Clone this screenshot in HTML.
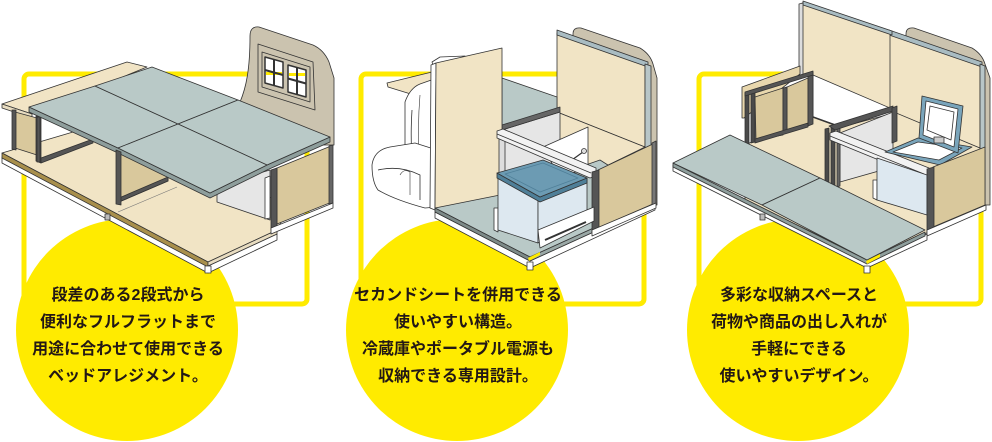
<!DOCTYPE html>
<html><head><meta charset="utf-8">
<style>
html,body{margin:0;padding:0;background:#fff;}
#wrap{position:relative;width:992px;height:442px;overflow:hidden;background:#fff;}
svg{position:absolute;left:0;top:0;}
.t{position:absolute;width:240px;text-align:center;font-family:"Liberation Sans","Noto Sans CJK JP",sans-serif;font-weight:bold;font-size:16px;line-height:27px;color:#231815;white-space:nowrap;}
</style></head><body><div id="wrap">
<svg width="992" height="442" viewBox="0 0 992 442">
<!-- yellow frames -->
<g fill="none" stroke="#ffeb00" stroke-width="5">
<rect x="24" y="74" width="283" height="230" rx="5"/>
<rect x="361" y="74" width="283" height="230" rx="5"/>
<rect x="699" y="74" width="282" height="230" rx="5"/>
</g>
<g fill="#ffeb00">
<circle cx="127" cy="330" r="111"/>
<circle cx="457" cy="330" r="111"/>
<circle cx="798" cy="330" r="111"/>
</g>

<!-- ============ PANEL 1 ============ -->
<g stroke="#333" stroke-width="0.8" stroke-linejoin="round">
<!-- headboard -->
<path d="M240,102 C246,88 250,70 250,36 Q250,26 259,27 L313,45 Q324,50 329,62 L334,78 L334,145 L240,145 Z" fill="#cbc3af"/>
<polygon points="258,44 313,62 315,110 258,92" fill="#cbc3af"/>
<polygon points="262,52 310,67 310,102 262,87" fill="#cbc3af"/>
<polygon points="265,57 283,62 283,88 265,83" fill="#fff" stroke-width="1.5"/>
<polygon points="288,65 306,70 306,97 288,92" fill="#fff" stroke-width="1.5"/>
<rect x="266" y="72" width="16" height="3" fill="#ffeb00" stroke="none"/>
<rect x="289" y="73" width="16" height="3" fill="#ffeb00" stroke="none"/>
<line x1="274" y1="59.5" x2="274" y2="85.5" stroke-width="2"/>
<line x1="265" y1="70" x2="283" y2="75" stroke-width="2"/>
<line x1="297" y1="67.5" x2="297" y2="94.5" stroke-width="2"/>
<line x1="288" y1="78.5" x2="306" y2="83.5" stroke-width="2"/>

<!-- floor -->
<polygon points="2,157 208,266 277,234 277,240 208,273 2,163" fill="#fff"/>
<polygon points="2,153 90,127 290,205 277,230 208,262" fill="#f1e4c5"/>
<line x1="118" y1="212" x2="177" y2="187" stroke="#777" stroke-width="0.6"/>
<polygon points="2,153 208,262 208,267 2,158" fill="#a88f4c"/>
<polygon points="208,262 277,230 277,234 208,266" fill="#e8dcc0"/>
<rect x="205" y="266" width="6" height="7" fill="#fff"/>
<rect x="105" y="214" width="5" height="6" fill="#bbb"/>

<!-- upper beige board -->
<polygon points="2,104 127,62 147,67 32,114" fill="#f1e4c5"/>
<polygon points="2,104 32,114 32,118 2,108" fill="#e8dcc0"/>

<!-- left cabinet -->
<polygon points="15,112 37,118 37,155 15,148" fill="#d9c89c"/>
<polygon points="12,110 16,110 16,150 12,149" fill="#555"/>
<polygon points="36,116 41,117 41,163 36,161" fill="#555"/>
<polygon points="41,158 93,139 93,143 41,163" fill="#555"/>

<!-- middle panel under mats -->
<polygon points="119,150 168,130 168,181 119,202" fill="#d9c89c"/>
<polygon points="119,198 168,177 168,181 119,202" fill="#555"/>

<!-- right cabinet -->
<polygon points="217,185 270,170 270,220 217,202" fill="#e6e6e6"/>
<polygon points="265,178 270,176 270,218 265,219" fill="#fff"/>
<polygon points="277,168 331,146 332,202 277,224" fill="#d9c89c"/>
<polygon points="271,170 277,168 277,228 271,230" fill="#555"/>
<polygon points="329,146 333,145 333,203 329,204" fill="#666"/>
<polygon points="271,228 333,203 333,208 271,234" fill="#fff"/>

<!-- mat thickness -->
<polygon points="29,107 29,112 118,153 210,198 267,170 330,142 330,137 267,165 210,193 118,148" fill="#8e9e9c"/>
<!-- mats -->
<polygon points="29,107 95,86 178,124 118,148" fill="#b9c9c7"/>
<polygon points="95,86 152,67 238,100 178,124" fill="#b9c9c7"/>
<polygon points="178,124 238,100 330,137 267,165" fill="#b9c9c7"/>
<polygon points="118,148 178,124 267,165 210,193" fill="#b9c9c7"/>

<!-- front posts -->
<polygon points="116,150 121,152 121,205 116,204" fill="#555"/>
<rect x="37" y="117" width="3" height="45" fill="#555"/>
</g>

<!-- ============ PANEL 2 ============ -->
<g stroke="#333" stroke-width="0.8" stroke-linejoin="round">
<path d="M573,34 Q573,27 581,28 L640,48 Q650,54 653,64 L657,78 L657,205 L573,205 Z" fill="#cbc3af"/>
<polygon points="557,33 645,65 645,147 557,112" fill="#f1e4c5"/>
<polygon points="557,30 648,62 648,67 557,35" fill="#a9bcc2"/>
<polygon points="645,64 651,66 651,147 645,149" fill="#b8c6c8"/>

<!-- back mat -->
<polygon points="502,78 557,97 557,112 502,130" fill="#b9c9c7"/>
<polygon points="412,86 440,80 440,97 418,96" fill="#b9c9c7"/>
<!-- compartment floor beige -->
<polygon points="557,112 645,147 598,170 560,160" fill="#f1e4c5"/>
<!-- inner wall -->
<polygon points="502,130 560,112 560,165 502,185" fill="#e6e6e6"/>
<polygon points="502,125 560,107 560,112 502,130" fill="#666"/>

<!-- small shelf -->
<polygon points="387,83 432,72 442,76 414,95 388,87" fill="#f1e4c5"/>

<!-- seat -->
<polygon points="432,62 440,57 465,56 468,60 445,68 437,76" fill="#fff"/>
<path d="M405,102 Q410,88 420,84 L437,78 L437,195 L420,192 Q408,180 405,160 Z" fill="#fff"/>
<path d="M412,110 Q410,140 413,175" fill="none"/>
<path d="M420,95 Q417,130 420,170" fill="none" stroke-width="0.6"/>
<path d="M372,165 Q374,150 390,147 L415,143 L437,150 L437,207 L425,208 Q395,200 378,190 Q372,182 372,165 Z" fill="#fff"/>
<path d="M378,170 Q400,165 420,175 L420,200" fill="none"/>
<path d="M400,175 Q404,168 410,172 L410,195" fill="none" stroke-width="0.6"/>

<!-- big left divider -->
<polygon points="431,65 436,63 435,210 430,208" fill="#fff"/>
<polygon points="436,63 502,48 502,197 435,210" fill="#f1e4c5"/>

<!-- floor -->
<polygon points="435,212 530,261 655,204 655,210 530,268 435,218" fill="#fff"/>
<polygon points="435,208 500,195 600,160 655,195 655,200 530,257" fill="#b9c9c7"/>
<polygon points="435,208 530,257 530,261 435,212" fill="#7d8a88"/>
<polygon points="530,257 655,200 655,204 530,261" fill="#9aa8a6"/>
<rect x="527" y="262" width="6" height="8" fill="#fff"/>
<polygon points="528,258 540,252 540,255 529,261" fill="#ffeb00" stroke="none"/>

<!-- inner left post -->
<polygon points="499,136 505,134 505,197 499,199" fill="#ddd"/>
<!-- small divider -->
<polygon points="543,147 588,127 588,167 560,178" fill="#fff"/>
<line x1="565" y1="165" x2="583" y2="152" stroke-width="1.2"/>
<circle cx="584" cy="151" r="2.5" fill="#ddd"/>
<!-- rail bar -->
<polygon points="497,131 503,129 596,168 596,176 590,178 497,138" fill="#f2f2f2"/>
<line x1="497" y1="134" x2="591" y2="173"/>
<!-- right side panel -->
<polygon points="598,170 655,143 655,203 598,228" fill="#d9c89c"/>
<polygon points="592,172 599,170 599,230 592,232" fill="#555"/>
<polygon points="652,143 656,141 656,205 652,206" fill="#777"/>
<polygon points="592,230 656,203 656,208 592,236" fill="#fff"/>

<!-- cooler -->
<polygon points="494,208 498,208 498,232 494,230" fill="#fff"/>
<polygon points="498,178 538,198 538,243 498,230" fill="#dde8f0"/>
<polygon points="538,198 587,178 587,212 538,243" fill="#dde8f0"/>
<polygon points="497,173 540,197 587,178 587,183 540,202 497,178" fill="#4f7f98"/>
<polygon points="497,173 543,160 587,178 540,197" fill="#6c9bb3"/>
<polygon points="505,174 543,163 578,178 540,192" fill="none" stroke="#4f7f98"/>
<!-- drawer slide -->
<polygon points="538,230 594,207 594,221 540,248" fill="#fff"/>
<line x1="545" y1="240" x2="586" y2="222" stroke-width="2"/>
</g>

<!-- ============ PANEL 3 ============ -->
<g stroke="#333" stroke-width="0.8" stroke-linejoin="round">
<path d="M906,34 Q906,27 914,28 L972,48 Q982,54 985,64 L990,78 L990,205 L906,205 Z" fill="#cbc3af"/>
<!-- beige floor -->
<polygon points="745,145 812,115 890,110 985,150 985,205 870,260 745,200" fill="#f1e4c5"/>
<!-- right tall panel -->
<polygon points="889,33 980,65 980,148 889,110" fill="#f1e4c5"/>
<polygon points="889,30 982,62 982,67 889,35" fill="#a9bcc2"/>
<polygon points="980,64 985,66 985,148 980,150" fill="#b8c6c8"/>
<!-- left tall panel -->
<polygon points="802,3 890,33 890,110 802,74" fill="#f1e4c5"/>
<polygon points="803,1 892,31 892,35 803,5" fill="#a9bcc2"/>
<polygon points="799,4 803,3 803,75 799,75" fill="#ddd"/>
<!-- white gap behind -->
<polygon points="813,75 890,108 890,114 842,127 813,117" fill="#fff"/>
<line x1="813" y1="117" x2="835" y2="125" stroke-width="1.5"/>
<!-- left cabinet -->
<polygon points="742,87 800,66 800,74 744,118 742,118" fill="#e8d7ad"/>
<polygon points="755,97 783,88 783,135 756,140" fill="#d9c89c"/>
<polygon points="787,87 808,78 808,125 787,132" fill="#d9c89c"/>
<polygon points="745,93 749,92 749,145 745,145" fill="#4a4a4a"/>
<polygon points="751,92 755,91 755,142 751,143" fill="#4a4a4a"/>
<polygon points="783,88 787,87 787,132 783,134" fill="#555"/>
<polygon points="808,74 813,72 813,124 808,126" fill="#555"/>
<polygon points="745,92 813,71 813,75 745,96" fill="#555"/>
<polygon points="755,139 808,123 808,127 755,143" fill="#555"/>
<!-- middle cabinet -->
<polygon points="840,133 893,112 893,167 840,182" fill="#e6e6e6"/>
<polygon points="825,129 829,128 829,187 825,186" fill="#4a4a4a"/>
<polygon points="831,127 835,126 835,188 831,188" fill="#4a4a4a"/>
<polygon points="837,129 840,128 840,186 837,187" fill="#666"/>
<polygon points="829,126 893,106 893,111 835,130" fill="#555"/>
<polygon points="892,108 897,106 897,141 892,143" fill="#555"/>
<!-- rail -->
<polygon points="830,133 836,131 929,168 929,176 923,178 830,140" fill="#f2f2f2"/>
<line x1="830" y1="136" x2="924" y2="174"/>
<!-- cooler -->
<polygon points="873,180 877,180 877,200 873,198" fill="#fff"/>
<polygon points="877,158 927,175 927,215 877,200" fill="#dde8f0"/>
<polygon points="885,152 918,138 972,147 940,165" fill="#7aa5bb"/>
<polygon points="893,152 918,142 962,148 939,160" fill="#fff"/>
<polygon points="922,96 963,106 958,153 919,138" fill="#7aa5bb"/>
<polygon points="926,101 958,109 954,147 923,135" fill="#fff"/>
<polygon points="930,106 954,112 951,140 927,130" fill="#fff"/>
<rect x="934" y="137" width="10" height="6" fill="#ccc"/>
<!-- right side panel -->
<polygon points="933,167 985,147 985,205 933,227" fill="#d9c89c"/>
<polygon points="927,169 934,167 934,230 927,232" fill="#555"/>
<polygon points="927,230 986,205 986,210 927,236" fill="#fff"/>
<!-- mats -->
<polygon points="673,165 867,262 927,234 927,240 867,268 673,171" fill="#fff"/>
<polygon points="673,163 867,260 925,232 925,236 867,264 673,167" fill="#8e9e9c"/>
<polygon points="673,163 730,135 820,178 762,205" fill="#b9c9c7"/>
<polygon points="762,205 820,178 925,230 867,260" fill="#b9c9c7"/>
<rect x="864" y="266" width="6" height="7" fill="#fff"/>
<rect x="760" y="214" width="5" height="6" fill="#bbb"/>
<polygon points="866,261 880,254 880,257 867,264" fill="#ffeb00" stroke="none"/>
</g>
</svg>

<div class="t" style="left:8px;top:282px">段差のある2段式から<br>便利なフルフラットまで<br>用途に合わせて使用できる<br>ベッドアレジメント。</div>
<div class="t" style="left:338px;top:282px">セカンドシートを併用できる<br>使いやすい構造。<br>冷蔵庫やポータブル電源も<br>収納できる専用設計。</div>
<div class="t" style="left:679px;top:282px">多彩な収納スペースと<br>荷物や商品の出し入れが<br>手軽にできる<br>使いやすいデザイン。</div>
</div></body></html>
